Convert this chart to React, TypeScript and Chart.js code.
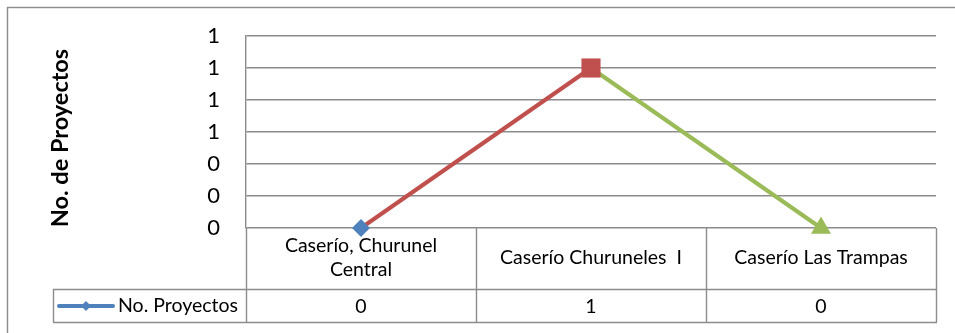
import React, { useEffect, useRef } from "react";
import { Chart, registerables } from "chart.js";

Chart.register(...registerables);

const categories: string[] = ["Caserío, Churunel Central", "Caserío Churuneles  I", "Caserío Las Trampas"];
const seriesName = "No. Proyectos";
const projectCounts: number[] = [0, 1, 0];
const yAxisTitle = "No. de Proyectos";
const yMin = 0;
const yMax = 1.2;
const yStep = 0.2;

const pointColors = ["#4F81BD", "#C0504D", "#9BBB59"];
const pointStyles = ["rectRot", "rect", "triangle"];
const pointRadii = [9, 13.5, 11.5];

const FONT = "Lato, 'Open Sans', sans-serif";
const GRID = "#8c8c8c";

const tablePlugin = {
  id: "dataTable",
  afterDraw(chart: any) {
    const ctx: CanvasRenderingContext2D = chart.ctx;
    const area = chart.chartArea;
    const xs = chart.scales.x;
    const n = categories.length;
    const band = (area.right - area.left) / n;
    const rowTop = area.bottom;
    const row1Bottom = rowTop + 61;
    const row2Bottom = row1Bottom + 33;
    const legendLeft = 53;

    ctx.save();
    ctx.strokeStyle = GRID;
    ctx.lineWidth = 1.4;
    ctx.strokeRect(7.5, 7.5, chart.width + 20, chart.height + 20);

    ctx.beginPath();
    for (let i = 0; i <= n; i++) {
      const x = Math.round(area.left + band * i) + 0.5;
      ctx.moveTo(x, rowTop);
      ctx.lineTo(x, row2Bottom + 0.5);
    }
    ctx.moveTo(legendLeft + 0.5, row1Bottom);
    ctx.lineTo(legendLeft + 0.5, row2Bottom + 0.5);
    ctx.moveTo(legendLeft, row1Bottom + 0.5);
    ctx.lineTo(area.right + 1, row1Bottom + 0.5);
    ctx.moveTo(legendLeft, row2Bottom + 0.5);
    ctx.lineTo(area.right + 1, row2Bottom + 0.5);
    ctx.stroke();

    ctx.fillStyle = "#000";
    ctx.font = `19.5px ${FONT}`;
    ctx.textAlign = "center";
    ctx.textBaseline = "middle";
    const maxW = band - 20;
    const cy1 = (rowTop + row1Bottom) / 2 - 1;
    categories.forEach((label, i) => {
      const cx = xs.getPixelForValue(i);
      const words = label.split(" ");
      const lines: string[] = [];
      let cur = "";
      words.forEach((w) => {
        const test = cur === "" ? w : cur + " " + w;
        if (ctx.measureText(test).width > maxW && cur !== "") {
          lines.push(cur);
          cur = w;
        } else {
          cur = test;
        }
      });
      if (cur !== "") lines.push(cur);
      const lh = 24;
      lines.forEach((ln, k) => {
        ctx.fillText(ln, cx, cy1 + (k - (lines.length - 1) / 2) * lh);
      });
      ctx.fillText(String(projectCounts[i]), cx, (row1Bottom + row2Bottom) / 2 + 1);
    });

    const ly = (row1Bottom + row2Bottom) / 2 + 0.5;
    ctx.strokeStyle = pointColors[0];
    ctx.lineWidth = 4;
    ctx.lineCap = "round";
    ctx.beginPath();
    ctx.moveTo(59, ly);
    ctx.lineTo(113, ly);
    ctx.stroke();
    ctx.fillStyle = pointColors[0];
    ctx.beginPath();
    ctx.moveTo(86, ly - 5);
    ctx.lineTo(91, ly);
    ctx.lineTo(86, ly + 5);
    ctx.lineTo(81, ly);
    ctx.closePath();
    ctx.fill();
    ctx.fillStyle = "#000";
    ctx.textAlign = "left";
    ctx.font = `19.5px ${FONT}`;
    ctx.fillText(seriesName, 118, ly);

    ctx.translate(60, 138);
    ctx.rotate(-Math.PI / 2);
    ctx.font = `bold 23.5px ${FONT}`;
    ctx.textAlign = "center";
    ctx.textBaseline = "middle";
    ctx.fillText(yAxisTitle, 0, 0);
    ctx.restore();
  },
};

export default function App() {
  const ref = useRef<HTMLCanvasElement | null>(null);
  useEffect(() => {
    document.body.style.margin = "0";
    const chart = new Chart(ref.current as HTMLCanvasElement, {
      type: "line",
      data: {
        labels: categories,
        datasets: [
          {
            label: seriesName,
            data: projectCounts,
            borderWidth: 4,
            borderColor: pointColors[0],
            segment: {
              borderColor: (c: any) => pointColors[c.p1DataIndex],
            },
            pointStyle: pointStyles as any,
            pointRadius: pointRadii,
            pointHoverRadius: pointRadii,
            pointBackgroundColor: pointColors,
            pointBorderColor: pointColors,
            pointBorderWidth: 0,
            tension: 0,
            clip: false as any,
          },
        ],
      },
      options: {
        animation: false,
        responsive: false,
        events: [],
        layout: { autoPadding: false, padding: { left: 0, right: 19, top: 36, bottom: 105 } },
        plugins: { legend: { display: false }, tooltip: { enabled: false }, title: { display: false } },
        scales: {
          x: { type: "category", display: false, offset: true },
          y: {
            min: yMin,
            max: yMax,
            afterFit: (s: any) => {
              s.width = 246;
              s.paddingTop = 0;
              s.paddingBottom = 0;
            },
            ticks: {
              stepSize: yStep,
              padding: 26,
              color: "#000",
              font: { family: FONT, size: 22 },
              callback: (v: any) => String(Math.round(Number(v))),
            },
            grid: { color: GRID, drawTicks: false, lineWidth: 1.4 },
            border: { display: true, color: GRID, width: 1.4 },
          },
        },
      },
      plugins: [tablePlugin],
    });
    return () => chart.destroy();
  }, []);
  return (
    <div style={{ position: "fixed", left: 0, top: 0, width: 955, height: 333, background: "#fff" }}>
      <canvas ref={ref} width={955} height={333} style={{ width: 955, height: 333, display: "block" }} />
    </div>
  );
}
